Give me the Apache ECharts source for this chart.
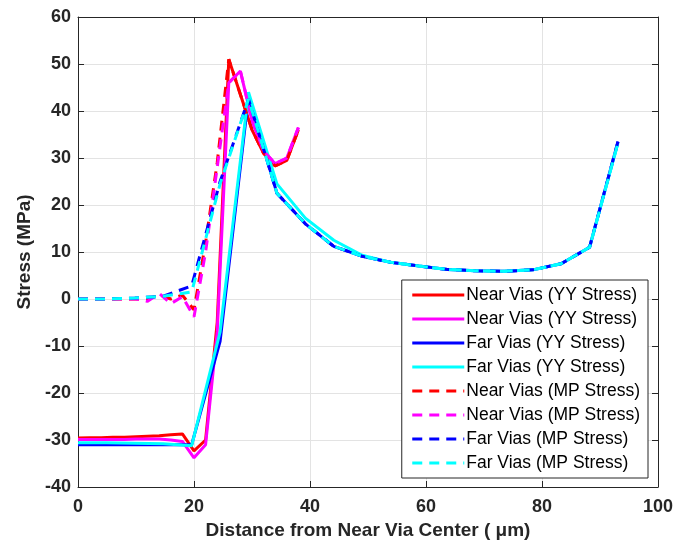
<!DOCTYPE html>
<html>
<head>
<meta charset="utf-8">
<script src="https://cdn.jsdelivr.net/npm/echarts@6/dist/echarts.min.js"></script>
<style>
  html, body { margin: 0; padding: 0; background: #fff; }
  #main { width: 697px; height: 547px; }
</style>
</head>
<body>
<div id="main"></div>
<script>
// near vias sampled every 2 um up to 38
var nearX = [0, 2, 4, 6, 8, 10, 12, 14, 16, 18, 20, 22, 24, 26, 28, 30, 32, 34, 36, 38];
var nearYY1 = [-29.6, -29.5, -29.5, -29.4, -29.4, -29.3, -29.2, -29.1, -28.9, -28.7, -32.3, -30, -5, 51, 43.5, 36, 31, 28.3, 29.5, 36];
var nearYY2 = [-29.9, -29.9, -29.9, -29.9, -29.9, -29.8, -29.8, -29.8, -30, -30.3, -33.8, -31, -7, 46, 48.5, 38, 31.5, 28.8, 30, 36.5];
var nearMP1 = [0, 0, 0, 0, 0, 0, 0, 0.8, 0, 0.8, -2.3, 12, 29, 51, 43.5, 36, 31, 28.3, 29.5, 36];
var nearMP2 = [0, 0, 0, 0, 0, 0, -0.5, 1.2, -1, 0.5, -3.8, 10, 28, 46, 48.5, 38, 31.5, 28.8, 30, 36.5];

// far vias sampled every 4.9 um
var farX = [0, 4.9, 9.8, 14.7, 19.6, 24.5, 29.4, 34.3, 39.2, 44.1, 49, 53.9, 58.8, 63.7, 68.6, 73.5, 78.4, 83.3, 88.2, 93.1];
var farYY1 = [-31, -31, -31, -31, -31, -9, 43, 22.5, 16, 11.2, 9.1, 7.8, 7, 6.3, 6, 5.9, 6.2, 7.5, 11, 33.5];
var farYY2 = [-30.6, -30.6, -30.7, -30.8, -31.2, -7, 44, 24.5, 17.2, 12.5, 9.3, 7.8, 7, 6.3, 6, 5.9, 6.2, 7.5, 11, 33.2];
var farMP1 = [0, 0, 0.2, 0.6, 2.8, 25, 42.5, 22.5, 16, 11.2, 9.1, 7.8, 7, 6.3, 6, 5.9, 6.2, 7.5, 11, 33.5];
var farMP2 = [0, 0, 0.2, 0.6, 1.5, 24.5, 42.5, 22.5, 16, 11.2, 9.1, 7.8, 7, 6.3, 6, 5.9, 6.2, 7.5, 11, 33.2];

var legendNames = {
    nyy1: 'Near Vias (YY Stress)',
    nyy2: 'Near Vias (YY Stress)',
    fyy1: 'Far Vias (YY Stress)',
    fyy2: 'Far Vias (YY Stress)',
    nmp1: 'Near Vias (MP Stress)',
    nmp2: 'Near Vias (MP Stress)',
    fmp1: 'Far Vias (MP Stress)',
    fmp2: 'Far Vias (MP Stress)'
};

var pairs = function (xs, ys) {
    return xs.map(function (x, i) { return [x, ys[i]]; });
};

var makeLine = function (key, xs, ys, color, dashed) {
    return {
        name: key,
        type: 'line',
        data: pairs(xs, ys),
        symbol: 'none',
        animation: false,
        lineStyle: { color: color, width: 3, type: dashed ? [10, 7] : 'solid' },
        itemStyle: { color: color }
    };
};

var font = 'Arial, "Liberation Sans", sans-serif';
var myChart = echarts.init(document.getElementById('main'));
var option = {
    backgroundColor: '#fff',
    grid: { left: 78, right: 39, top: 17, bottom: 60 },
    legend: {
        orient: 'vertical',
        right: 49,
        top: 280,
        data: ['nyy1', 'nyy2', 'fyy1', 'fyy2', 'nmp1', 'nmp2', 'fmp1', 'fmp2'],
        formatter: function (name) { return legendNames[name]; },
        itemWidth: 52,
        itemHeight: 14,
        itemGap: 6,
        padding: [6, 8, 6, 9],
        backgroundColor: '#fff',
        borderColor: '#262626',
        borderWidth: 1,
        itemStyle: { opacity: 0 },
        lineStyle: { width: 3 },
        textStyle: { fontFamily: font, fontSize: 17.5, color: '#000', padding: [0, 0, 0, -3] }
    },
    xAxis: [{
        type: 'value',
        min: 0, max: 100, interval: 20,
        name: 'Distance from Near Via Center ( \u03bcm)',
        nameLocation: 'middle',
        nameGap: 27,
        nameTextStyle: { fontFamily: font, fontSize: 19, fontWeight: 'bold', color: '#262626' },
        axisLine: { onZero: false, lineStyle: { color: '#262626', width: 1 } },
        axisTick: { inside: true, length: 6, lineStyle: { color: '#262626' } },
        axisLabel: { fontFamily: font, fontSize: 18, fontWeight: 'bold', color: '#262626', margin: 11 },
        splitLine: { show: true, lineStyle: { color: '#e3e3e3', width: 1 } }
    }, {
        type: 'value',
        position: 'top',
        min: 0, max: 100, interval: 20,
        axisLine: { onZero: false, lineStyle: { color: '#262626', width: 1 } },
        axisTick: { inside: true, length: 6, lineStyle: { color: '#262626' } },
        axisLabel: { show: false },
        splitLine: { show: false }
    }],
    yAxis: [{
        type: 'value',
        min: -40, max: 60, interval: 10,
        name: 'Stress (MPa)',
        nameLocation: 'middle',
        nameGap: 42,
        nameTextStyle: { fontFamily: font, fontSize: 19, fontWeight: 'bold', color: '#262626' },
        axisLine: { onZero: false, lineStyle: { color: '#262626', width: 1 } },
        axisTick: { inside: true, length: 6, lineStyle: { color: '#262626' } },
        axisLabel: { fontFamily: font, fontSize: 18, fontWeight: 'bold', color: '#262626', margin: 7 },
        splitLine: { show: true, lineStyle: { color: '#e3e3e3', width: 1 } }
    }, {
        type: 'value',
        position: 'right',
        min: -40, max: 60, interval: 10,
        axisLine: { show: true, onZero: false, lineStyle: { color: '#262626', width: 1 } },
        axisTick: { show: true, inside: true, length: 6, lineStyle: { color: '#262626' } },
        axisLabel: { show: false },
        splitLine: { show: false }
    }],
    series: [
        makeLine('nyy1', nearX, nearYY1, '#ff0000', false),
        makeLine('nyy2', nearX, nearYY2, '#ff00ff', false),
        makeLine('fyy1', farX, farYY1, '#0000ff', false),
        makeLine('fyy2', farX, farYY2, '#00ffff', false),
        makeLine('nmp1', nearX, nearMP1, '#ff0000', true),
        makeLine('nmp2', nearX, nearMP2, '#ff00ff', true),
        makeLine('fmp1', farX, farMP1, '#0000ff', true),
        makeLine('fmp2', farX, farMP2, '#00ffff', true)
    ]
};
myChart.setOption(option);
</script>
</body>
</html>
